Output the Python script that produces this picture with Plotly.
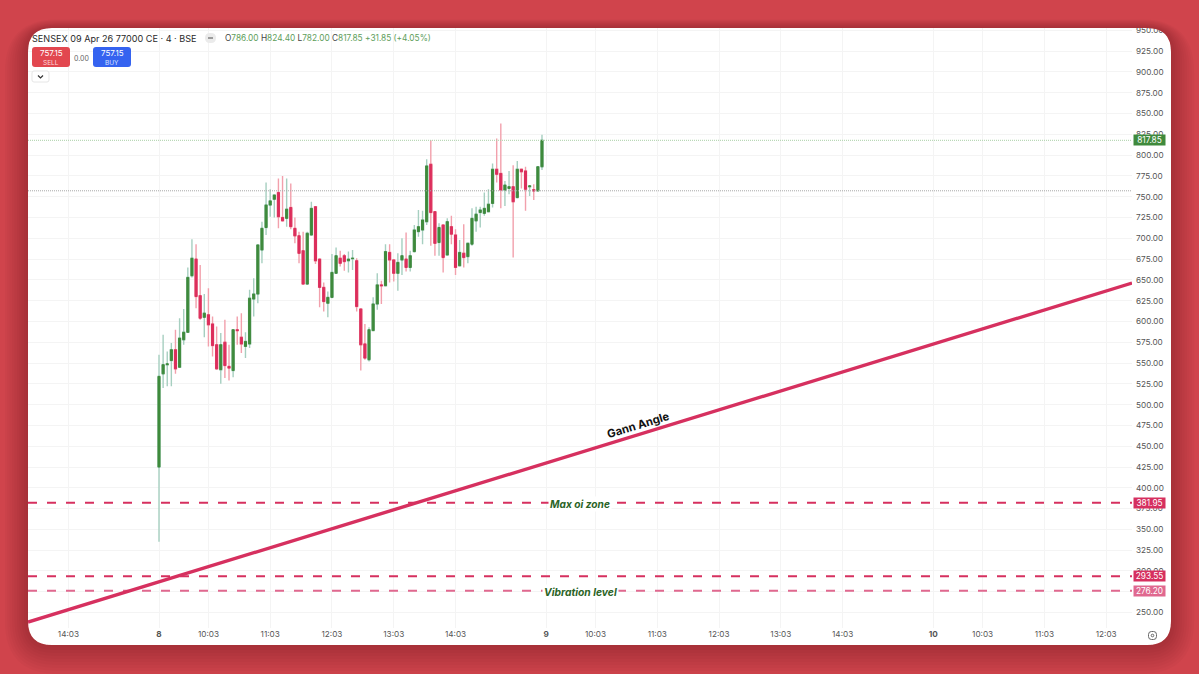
import plotly.graph_objects as go

# candles, 4 minute bars from 8 Apr 09:15
opens = [425, 537, 548, 553, 566, 545, 578, 587, 655, 675, 631, 605, 608, 597, 572, 542, 575, 546, 541, 590,
         581, 570, 573, 627, 633, 686, 713, 740, 747, 755, 725, 724, 737, 712, 703, 685, 645, 704, 738, 675,
         641, 622, 629, 658, 676, 679, 673, 675.5, 673, 615, 573, 554, 589, 621, 644, 643, 683, 674, 658, 674,
         675, 665, 684, 708, 710, 720, 789, 732, 695, 716, 680, 714, 704, 667, 682, 678, 693, 721, 731, 730,
         732, 742, 783, 778, 758, 760, 762, 749, 783, 781, 762, 758.5, 757, 786]
highs = [560, 584, 564, 574, 590, 604, 615, 665, 699, 693, 668, 633, 640, 606, 594, 586, 602, 572, 591, 606,
         610, 587, 638, 652, 692, 720, 767, 759, 753, 772, 775, 772, 766, 725, 708, 708, 708, 744, 738, 675,
         647, 636, 681, 689, 685, 681, 684, 686, 676, 615, 597, 593, 629, 658, 649, 693, 693, 674, 682, 700,
         707, 685, 716, 734, 733, 795, 818, 732, 718, 716, 724, 727, 711, 698, 717, 694, 736, 738, 738, 755,
         759, 790, 820, 838, 769, 781, 788, 793, 783, 786, 764, 765, 786, 824.4]
lows = [335, 520, 522, 522, 537, 544, 572, 586, 653, 616, 602, 581, 570, 558, 542, 525, 532, 529, 533, 572,
        562, 556, 568, 606, 622, 670, 704, 726, 725, 712, 721, 714, 711, 694, 670, 645, 644, 703, 669, 617,
        612, 605, 628, 657, 666, 661, 659, 662, 612, 541, 554, 552, 589, 614, 621, 642, 647, 648, 637, 656,
        660, 660, 683, 702, 693, 716, 691, 679, 679, 659, 679, 693, 656, 666, 665, 670, 691, 708, 713, 727,
        731, 737, 767, 736, 739, 753, 677, 748, 760, 733, 751, 746, 756, 782]
closes = [534, 548, 549, 566, 543, 580, 587, 653, 676, 630, 604, 610, 596, 571, 543, 572, 547, 544, 590, 589,
          573, 576, 628, 633, 692, 712, 740, 745, 752, 726, 721, 735, 714, 703, 682, 645, 706, 736, 673, 641,
          624, 629, 659, 679, 670, 672, 675, 676, 618, 572, 556, 590, 621, 644, 643, 684, 674, 658, 671, 679,
          665, 679, 710, 714, 722, 787, 731, 694, 713, 677, 720, 705, 665, 683, 677, 694, 724, 729, 734, 736,
          741, 783, 777, 758, 764, 762, 744, 783, 780, 759, 763, 757, 786, 817.85]
bar_index = list(range(len(opens)))

# level lines
max_oi = 381.95
high_line = 293.55
vibration = 276.20
last_close = 817.85
sell_price = 757.15

# gann line end points, bar index and price
gann_x = [-31.81, 236.27]
gann_y = [238.5, 646.2]

# axes
x_ticks = [-22, 0, 12, 27, 42, 57, 72, 94, 106, 121, 136, 151, 166, 188, 200, 215, 230]
x_labels = ["14:03", "<b>8</b>", "10:03", "11:03", "12:03", "13:03", "14:03", "<b>9</b>", "10:03", "11:03",
            "12:03", "13:03", "14:03", "<b>10</b>", "10:03", "11:03", "12:03"]
y_ticks = list(range(250, 951, 25))
y_labels = [f"{v}.00" for v in y_ticks]

RED_BG = "#D0444C"
GREEN = "#3F8A3C"
RED = "#DC2E5C"
FONT = "Inter"
X_MIN, X_MAX = gann_x
L, R, T, B = 28, 1132, 28, 628


def fx(px):
    return (px - L) / (R - L)


def fy(py):
    return (B - py) / (B - T)


def rrect(x0, y0, x1, y1, r):
    # rounded rect in pixels, returned in paper coords
    def p(x, y):
        return f"{fx(x):.5f},{fy(y):.5f}"
    return (f"M{p(x0 + r, y0)} L{p(x1 - r, y0)} Q{p(x1, y0)} {p(x1, y0 + r)} L{p(x1, y1 - r)} "
            f"Q{p(x1, y1)} {p(x1 - r, y1)} L{p(x0 + r, y1)} Q{p(x0, y1)} {p(x0, y1 - r)} "
            f"L{p(x0, y0 + r)} Q{p(x0, y0)} {p(x0 + r, y0)} Z")


def paper_shape(path, **kw):
    return dict(type="path", path=path, xref="paper", yref="paper", layer="above", **kw)


card = rrect(28, 28, 1171, 645, 24)
outer = f"M{fx(-5)},{fy(-5)} L{fx(1205)},{fy(-5)} L{fx(1205)},{fy(680)} L{fx(-5)},{fy(680)} Z"

shapes = [paper_shape(outer + " " + card, fillcolor=RED_BG, fillrule="evenodd", line_width=0)]
# soft shadow round the card
for k in range(2, 30, 3):
    ring = rrect(28 - k * 0.8, 28 - k * 0.3, 1171 + k * 0.8, 645 + k, 24 + k)
    shapes.append(paper_shape(ring + " " + card, fillcolor="#000000", opacity=0.018,
                              fillrule="evenodd", line_width=0))
# order buttons and chevron box
shapes += [
    paper_shape(rrect(32, 47, 70, 67, 3), fillcolor="#E2474F", line_width=0),
    paper_shape(rrect(93, 47, 131, 67, 3), fillcolor="#3563F0", line_width=0),
    paper_shape(rrect(32, 71, 49, 82, 2), fillcolor="#FFFFFF", line=dict(color="#E6E6E6", width=1)),
    paper_shape(f"M{fx(38)},{fy(75.5)} L{fx(40.5)},{fy(78)} L{fx(43)},{fy(75.5)}",
                line=dict(color="#333333", width=1.2)),
    paper_shape(rrect(205, 33, 216, 43, 5), fillcolor="#EBEBEB", line_width=0),
    paper_shape(f"M{fx(208)},{fy(38)} L{fx(213)},{fy(38)}", line=dict(color="#666666", width=1.2)),
    paper_shape(rrect(1148.5, 631.5, 1156.5, 639.5, 3), line=dict(color="#666666", width=1)),
    paper_shape(rrect(1151.2, 634.2, 1153.8, 636.8, 1.3), line=dict(color="#666666", width=1)),
]

fig = go.Figure()

# wicks first, pale
fig.add_trace(go.Candlestick(
    x=bar_index, open=opens, high=highs, low=lows, close=closes, whiskerwidth=0,
    increasing=dict(line=dict(color="#A6CFC0", width=1.4), fillcolor="#A6CFC0"),
    decreasing=dict(line=dict(color="#F2A0AC", width=1.4), fillcolor="#F2A0AC"),
))
# bodies on top of them
fig.add_trace(go.Candlestick(
    x=bar_index, open=opens, close=closes, whiskerwidth=0,
    high=[max(o, c) for o, c in zip(opens, closes)],
    low=[min(o, c) for o, c in zip(opens, closes)],
    increasing=dict(line=dict(color=GREEN, width=1), fillcolor=GREEN),
    decreasing=dict(line=dict(color=RED, width=1), fillcolor=RED),
))


def hline(level, color, width, dash):
    fig.add_trace(go.Scatter(x=[X_MIN, X_MAX], y=[level, level], mode="lines",
                             line=dict(color=color, width=width, dash=dash)))


hline(last_close, "#A9CFA6", 1, "1px,1px")
hline(sell_price, "#A8A8A8", 1, "1px,1px")
hline(max_oi, "#D6305F", 2, "9px,10px")
hline(high_line, "#D6305F", 2, "9px,10px")
hline(vibration, "#E0688F", 2, "9px,10px")

fig.add_trace(go.Scatter(x=gann_x, y=gann_y, mode="lines", line=dict(color="#D6305F", width=3.4)))


def text(px, py, s, size=9, color="#333333", anchor="center", **kw):
    fig.add_annotation(x=fx(px), y=fy(py), xref="paper", yref="paper", text=s, showarrow=False,
                       xanchor=anchor, yanchor="middle", font=dict(family=FONT, size=size, color=color), **kw)


def price_tag(level, color):
    fig.add_annotation(x=fx(1133), xref="paper", y=level, yref="y", text=f"{level:.2f}", showarrow=False,
                       xanchor="left", yanchor="middle", width=31, height=10, bgcolor=color, borderpad=0,
                       font=dict(family=FONT, size=8.3, color="#FFFFFF"))


price_tag(last_close, "#3F8A3C")
price_tag(max_oi, "#D6305F")
price_tag(high_line, "#D6305F")
price_tag(vibration, "#E0688F")

# header
text(30, 38, "SENSEX 09 Apr 26 77000 CE · 4 · BSE", size=9.1, anchor="left", color="#2A2A2A")
g = '<span style="color:#5E9E5B">%s</span>'
text(223, 38, "O" + g % "786.00" + " H" + g % "824.40" + " L" + g % "782.00" + " C" + g % "817.85"
     + " " + g % "+31.85 (+4.05%)", size=8.3, anchor="left", color="#444444")
text(51, 53.5, "757.15", size=8, color="#FFFFFF")
text(51, 62.5, "SELL", size=6.5, color="#FFD9DB")
text(112, 53.5, "757.15", size=8, color="#FFFFFF")
text(112, 62.5, "BUY", size=6.5, color="#D8E2FF")
text(81, 58, "0.00", size=7, color="#666666")

# drawing labels
text(579.5, 503.5, "<b><i>Max oi zone</i></b>", size=10.2, color="#2A6326", bgcolor="#FFFFFF", borderpad=1)
text(580, 591.5, "<b><i>Vibration level</i></b>", size=10.3, color="#2A6326", bgcolor="#FFFFFF", borderpad=1)
text(638, 425, "<b>Gann Angle</b>", size=11.3, color="#111111", textangle=-17)

fig.update_layout(
    width=1199, height=674,
    margin=dict(l=L, r=1199 - R, t=T, b=674 - B),
    paper_bgcolor="#FFFFFF", plot_bgcolor="#FFFFFF",
    showlegend=False, shapes=shapes,
    font=dict(family=FONT, size=8.2, color="#555555"),
    xaxis=dict(range=[X_MIN, X_MAX], tickmode="array", tickvals=x_ticks, ticktext=x_labels,
               rangeslider=dict(visible=False), showgrid=True, gridcolor="#F4F4F4", gridwidth=1,
               zeroline=False, showline=False, ticks="", tickfont=dict(family=FONT, size=8.2, color="#555555")),
    yaxis=dict(range=[231.4, 952.9], side="right", tickmode="array", tickvals=y_ticks, ticktext=y_labels,
               showgrid=True, gridcolor="#F4F4F4", gridwidth=1, zeroline=False, showline=False, ticks="",
               ticklabelstandoff=3, tickfont=dict(family=FONT, size=8.2, color="#555555")),
)

# page margin would shift everything by 8px
fig.write_html("out.html", config=dict(displayModeBar=False),
               post_script="document.body.style.margin='0';document.body.style.overflow='hidden';")
